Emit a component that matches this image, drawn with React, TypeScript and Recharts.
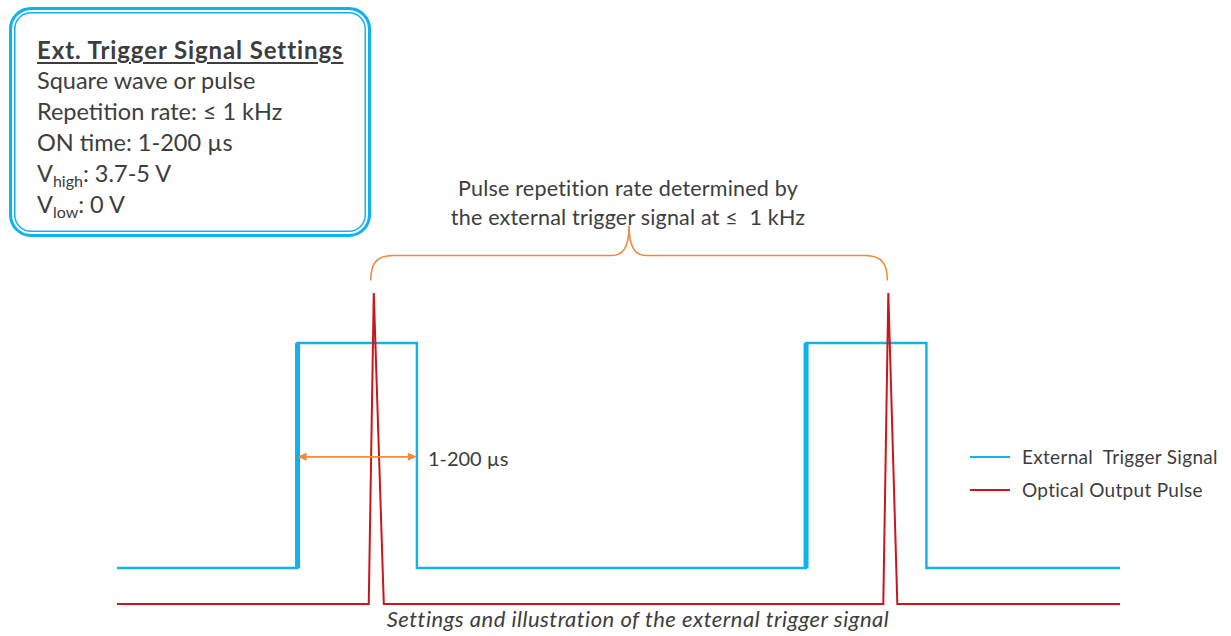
import React from "react"
import {
  ComposedChart,
  Line,
  XAxis,
  YAxis,
  ReferenceLine,
  Legend,
} from "recharts"

// time axis is in arbitrary units (0..1000), voltage for the trigger, normalised for the optical pulse
const triggerTimes = [0, 180, 180, 299, 299, 687, 687, 807, 807, 1000]
const triggerVolts = [0, 0, 5, 5, 0, 0, 5, 5, 0, 0]
const risingEdges = [180, 687]
const pulseTimes = [0, 251, 256, 266, 764, 769, 778, 1000]
const pulseLevels = [0, 0, 1, 0, 0, 1, 0, 0]
const onTimeSpan = [180, 299]
const onTimeLevel = 2.47
const braceSpan = [253, 768]
const braceLevel = 1.04

const settingsTitle = "Ext. Trigger Signal Settings"
const settingsLines = ["Square wave or pulse", "Repetition rate: ≤ 1 kHz", "ON time: 1-200 µs"]
const braceText = ["Pulse repetition rate determined by", "the external trigger signal at ≤  1 kHz"]
const onTimeText = "1-200 µs"
const caption = "Settings and illustration of the external trigger signal"

const BLUE = "#10B2EE"
const RED = "#C8161D"
const ORANGE = "#F08A3E"
const TEXT = "#3d3d3d"
const FONT = "Lato, 'Open Sans', sans-serif"

const triggerData = triggerTimes.map((t, i) => ({ t, v: triggerVolts[i] }))
const edgeData = risingEdges.flatMap((t) => [
  { t, v: 0 },
  { t, v: 5 },
  { t, v: null },
])
const pulseData = pulseTimes.map((t, i) => ({ t, p: pulseLevels[i] }))

function Brace(props: any) {
  const { x1, x2, y1 } = props
  const mid = (x1 + x2) / 2
  const h = y1 - 25
  const tip = y1 - 55
  const d = [
    `M${x1},${y1}`,
    `C${x1},${y1 - 16} ${x1 + 5},${h} ${x1 + 22},${h}`,
    `L${mid - 18},${h}`,
    `C${mid - 6},${h} ${mid},${h - 8} ${mid},${tip}`,
    `C${mid},${h - 8} ${mid + 6},${h} ${mid + 18},${h}`,
    `L${x2 - 22},${h}`,
    `C${x2 - 5},${h} ${x2},${y1 - 16} ${x2},${y1}`,
  ].join(" ")
  return (
    <g>
      <path d={d} fill="none" stroke={ORANGE} strokeWidth={1.6} />
      {braceText.map((s, i) => (
        <text
          key={i}
          x={mid - 1}
          y={y1 - 93 + i * 29}
          textAnchor="middle"
          dominantBaseline="central"
          fill={TEXT}
          fontSize={21.5}
          fontFamily={FONT}
          letterSpacing={0.2}
          style={{ whiteSpace: "pre" }}
        >
          {s}
        </text>
      ))}
    </g>
  )
}

function OnTimeArrow(props: any) {
  const { x1, x2, y1 } = props
  return (
    <g>
      <line x1={x1 + 6} y1={y1} x2={x2 - 6} y2={y1} stroke={ORANGE} strokeWidth={1.6} />
      <polygon points={`${x1},${y1} ${x1 + 9},${y1 - 4} ${x1 + 9},${y1 + 4}`} fill={ORANGE} />
      <polygon points={`${x2},${y1} ${x2 - 9},${y1 - 4} ${x2 - 9},${y1 + 4}`} fill={ORANGE} />
      <text
        x={x2 + 11}
        y={y1 + 1}
        dominantBaseline="central"
        fill={TEXT}
        fontSize={20}
        fontFamily={FONT}
      >
        {onTimeText}
      </text>
    </g>
  )
}

function LegendBox(props: any) {
  const items = (props.payload || []).filter((p: any) => p.type !== "none")
  return (
    <div style={{ fontFamily: FONT }}>
      {items.map((p: any) => (
        <div key={p.value} style={{ display: "flex", alignItems: "center", height: 33 }}>
          <span style={{ display: "inline-block", width: 40, height: 2, background: p.color, marginRight: 12 }} />
          <span style={{ fontSize: 19, letterSpacing: 0.3, color: TEXT, whiteSpace: "pre" }}>{p.value}</span>
        </div>
      ))}
    </div>
  )
}

export default function App() {
  const sub = { fontSize: 16, verticalAlign: "-5px", lineHeight: 0 }
  return (
    <div style={{ position: "absolute", left: 0, top: 0, width: 1231, height: 636, background: "#fff", fontFamily: FONT }}>
      <ComposedChart
        width={1231}
        height={636}
        margin={{ top: 293, right: 111, bottom: 32, left: 117 }}
      >
        <XAxis dataKey="t" type="number" domain={[0, 1000]} hide />
        <YAxis yAxisId="trig" type="number" domain={[-0.8, 6.11]} hide />
        <YAxis yAxisId="opt" type="number" domain={[0, 1]} hide />
        <Line
          yAxisId="trig"
          data={triggerData}
          dataKey="v"
          name="External  Trigger Signal"
          type="linear"
          stroke={BLUE}
          strokeWidth={2.4}
          dot={false}
          activeDot={false}
          legendType="plainline"
          isAnimationActive={false}
        />
        <Line
          yAxisId="trig"
          data={edgeData}
          dataKey="v"
          name="edge"
          type="linear"
          stroke={BLUE}
          strokeWidth={5}
          dot={false}
          activeDot={false}
          legendType="none"
          isAnimationActive={false}
        />
        <Line
          yAxisId="opt"
          data={pulseData}
          dataKey="p"
          name="Optical Output Pulse"
          type="linear"
          stroke={RED}
          strokeWidth={2}
          dot={false}
          activeDot={false}
          legendType="plainline"
          isAnimationActive={false}
        />
        <ReferenceLine
          yAxisId="trig"
          segment={[
            { x: onTimeSpan[0], y: onTimeLevel },
            { x: onTimeSpan[1], y: onTimeLevel },
          ]}
          ifOverflow="visible"
          shape={OnTimeArrow}
        />
        <ReferenceLine
          yAxisId="opt"
          segment={[
            { x: braceSpan[0], y: braceLevel },
            { x: braceSpan[1], y: braceLevel },
          ]}
          ifOverflow="visible"
          shape={Brace}
        />
        <Legend
          layout="vertical"
          align="center"
          verticalAlign="middle"
          wrapperStyle={{ left: 970, top: 440, width: 261 }}
          content={LegendBox}
        />
      </ComposedChart>

      <div
        style={{
          position: "absolute",
          left: 9,
          top: 7,
          width: 356,
          height: 224,
          border: `3px solid ${BLUE}`,
          borderRadius: 22,
          boxShadow: `inset 0 0 0 2px #fff, inset 0 0 0 3.5px ${BLUE}`,
          color: TEXT,
        }}
      >
        <div style={{ position: "absolute", left: 25, top: 24, fontSize: 23.5, lineHeight: "31px", whiteSpace: "nowrap" }}>
          <div style={{ fontWeight: 700, fontSize: 24, letterSpacing: 0.9, textDecoration: "underline", textUnderlineOffset: 3 }}>
            {settingsTitle}
          </div>
          {settingsLines.map((s) => (
            <div key={s}>{s}</div>
          ))}
          <div>
            V<sub style={sub}>high</sub>: 3.7-5 V
          </div>
          <div>
            V<sub style={sub}>low</sub>: 0 V
          </div>
        </div>
      </div>

      <div
        style={{
          position: "absolute",
          left: 0,
          width: 1276,
          top: 605,
          textAlign: "center",
          fontStyle: "italic",
          fontSize: 22,
          letterSpacing: 0.5,
          color: TEXT,
        }}
      >
        {caption}
      </div>
    </div>
  )
}
